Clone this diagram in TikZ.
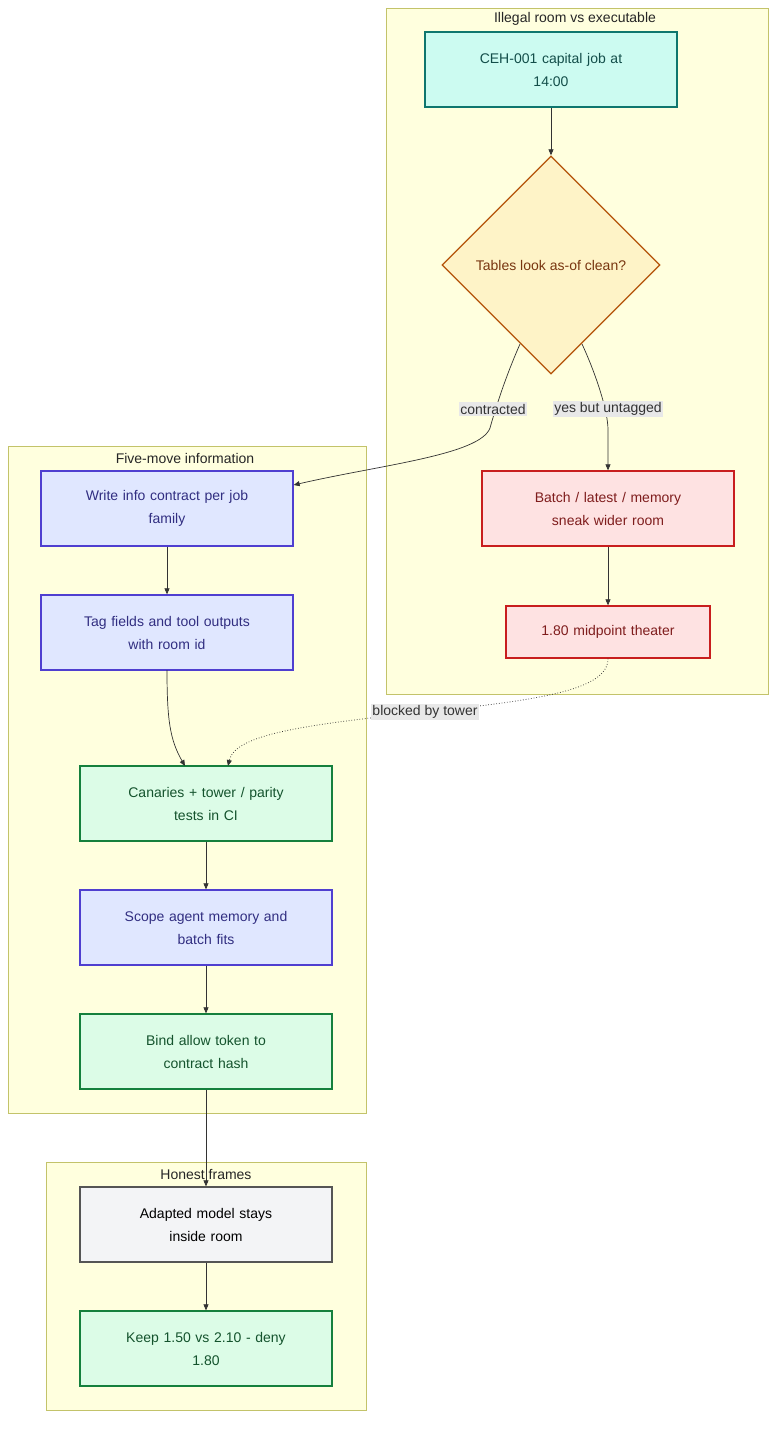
\documentclass[tikz,border=0pt]{standalone}
\usepackage{fontspec}
\setmainfont{Liberation Sans}
\usetikzlibrary{shapes.geometric,arrows.meta}
\definecolor{clf}{HTML}{FFFFDE}\definecolor{cld}{HTML}{C3C36A}
\definecolor{tealf}{HTML}{CCFBF1}\definecolor{teald}{HTML}{0F766E}\definecolor{tealt}{HTML}{134E4A}
\definecolor{ambf}{HTML}{FEF3C7}\definecolor{ambd}{HTML}{B45309}\definecolor{ambt}{HTML}{78350F}
\definecolor{redf}{HTML}{FEE2E2}\definecolor{redd}{HTML}{C81E1E}\definecolor{redt}{HTML}{7F1D1D}
\definecolor{bluf}{HTML}{E0E7FF}\definecolor{blud}{HTML}{4F3FD0}\definecolor{blut}{HTML}{312E81}
\definecolor{grnf}{HTML}{DCFCE7}\definecolor{grnd}{HTML}{15803D}\definecolor{grnt}{HTML}{14532D}
\definecolor{gryf}{HTML}{F3F4F6}\definecolor{gryd}{HTML}{555555}
\definecolor{lbl}{HTML}{E8E8E8}
\begin{document}
\begin{tikzpicture}[x=1pt,y=-1pt,font=\fontsize{14}{23}\selectfont,
 box/.style={draw,line width=1.3pt,minimum width=252pt,minimum height=75pt,align=center,text width=240pt,inner sep=0pt},
 teal/.style={box,fill=tealf,draw=teald,text=tealt},
 blu/.style={box,fill=bluf,draw=blud,text=blut},
 grn/.style={box,fill=grnf,draw=grnd,text=grnt},
 red/.style={box,fill=redf,draw=redd,text=redt},
 gry/.style={box,fill=gryf,draw=gryd,text=black},
 clus/.style={draw=cld,fill=clf,line width=0.8pt},
 ctitle/.style={text=black!85,font=\fontsize{14}{16}\selectfont},
 arr/.style={draw=black!80,line width=0.7pt,-{Triangle[length=6pt,width=5pt]}},
 lab/.style={fill=lbl,text=black!80,inner sep=1.5pt,font=\fontsize{14}{16}\selectfont}]
\useasboundingbox (0,0) rectangle (784,1433);
\fill[white] (0,0) rectangle (784,1433);
\draw[clus] (386,8) rectangle (768,694);
\draw[clus] (8,446) rectangle (366,1113);
\draw[clus] (46,1162) rectangle (366,1410);
\node[ctitle] (t1) at (575,19) {Illegal room vs executable};
\node[ctitle] (t2) at (185,458) {Five-move information};
\node[ctitle] (t3) at (206,1174) {Honest frames};
\node[teal] (ceh) at (551,69.5) {CEH-001 capital job at\\14:00};
\node[diamond,draw=ambd,fill=ambf,text=ambt,line width=1.3pt,minimum width=218pt,minimum height=218pt,inner sep=0pt] (dia) at (551,265) {Tables look as-of clean?};
\node[red] (bat) at (608,508.5) {Batch / latest / memory\\sneak wider room};
\node[red,minimum width=204pt,minimum height=52pt,text width=200pt] (mid) at (608,632) {1.80 midpoint theater};
\node[blu] (wri) at (167,508.5) {Write info contract per job\\family};
\node[blu] (tag) at (167,632.5) {Tag fields and tool outputs\\with room id};
\node[grn] (can) at (206,803.5) {Canaries + tower / parity\\tests in CI};
\node[blu] (sco) at (206,927.5) {Scope agent memory and\\batch fits};
\node[grn] (bin) at (206,1051.5) {Bind allow token to\\contract hash};
\node[gry] (ada) at (206,1224.5) {Adapted model stays\\inside room};
\node[grn] (kee) at (206,1348.5) {Keep 1.50 vs 2.10 - deny\\1.80};
\draw[arr] (ceh) -- (dia);
\draw[arr] (520,344) .. controls (505,378) and (495,410) .. (490,428) .. controls (480,455) and (380,465) .. (wri.east|-0,485);
\node[lab] (l1) at (493,409) {contracted};
\draw[arr] (582,344) .. controls (595,372) and (608,410) .. (608,430) -- (bat);
\node[lab] (l2) at (608,409) {yes but untagged};
\draw[arr] (bat) -- (mid);
\draw[arr] (wri) -- (tag);
\draw[arr] (167,670) .. controls (167,720) and (170,740) .. (185,766);
\draw[arr,dotted,line width=0.8pt] (mid.south) .. controls (608,690) and (540,700) .. (425,712) .. controls (300,725) and (235,735) .. (228,766);
\node[lab] (l3) at (425,712) {blocked by tower};
\draw[arr] (can) -- (sco);
\draw[arr] (sco) -- (bin);
\draw[arr] (bin) -- (ada);
\draw[arr] (ada) -- (kee);
\end{tikzpicture}
\end{document}
